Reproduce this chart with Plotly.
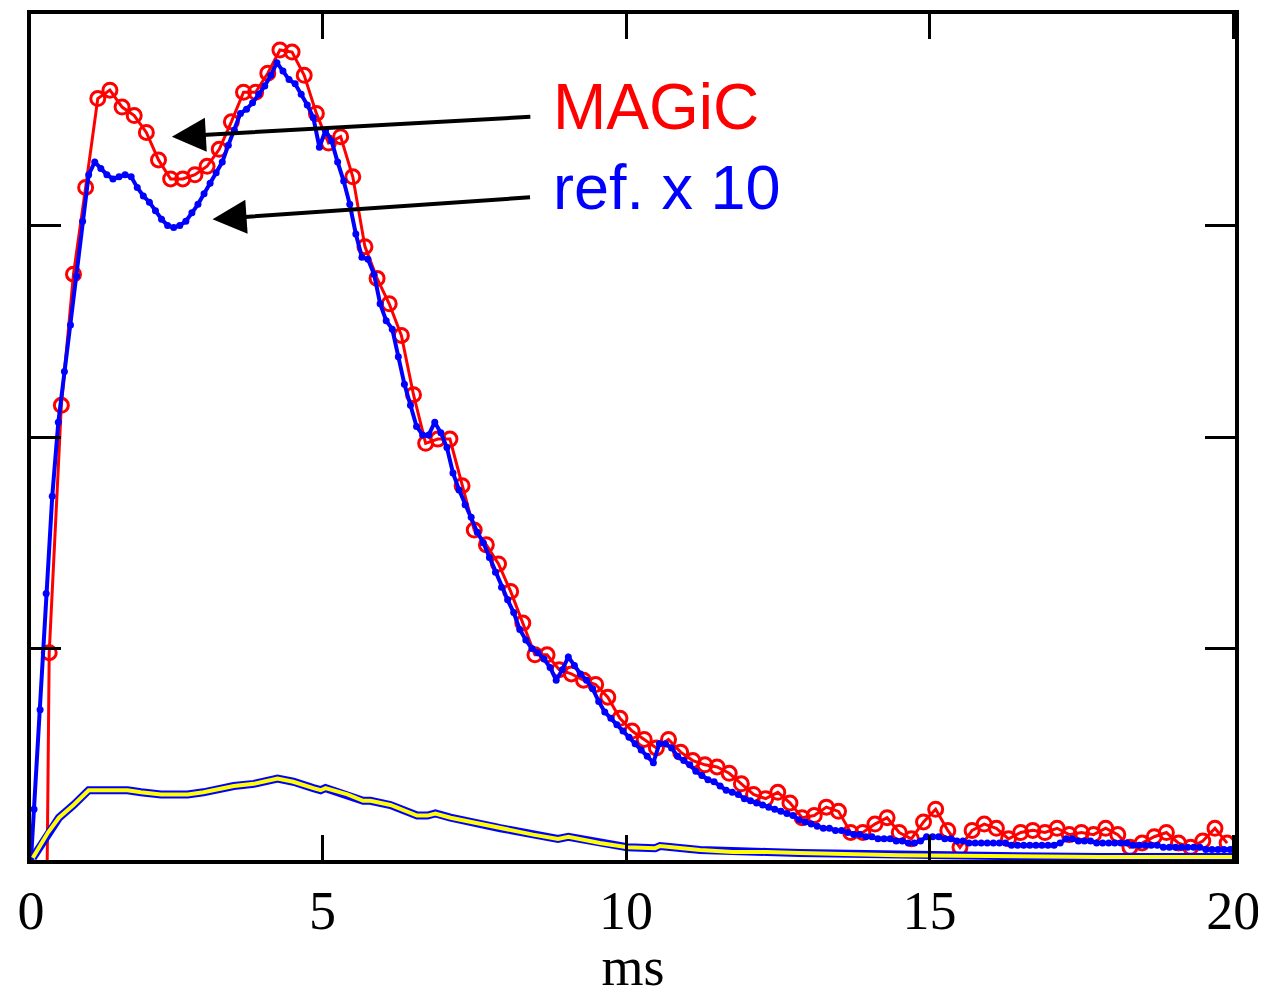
"""MAGiC vs reference signal (x10) over time, plotly recreation."""

import numpy as np
import plotly.graph_objects as go

# ---- data -----------------------------------------------------------------
# MAGiC samples, every 0.2 ms; first sample lies below the axis (clipped)
magic_t = np.round(np.arange(0.3, 20.0, 0.2), 1)
magic_v = [
    -5.0,
    0.98, 2.15, 2.77, 3.18, 3.60, 3.64, 3.56, 3.52, 3.44, 3.31,
    3.22, 3.22, 3.24, 3.28, 3.36, 3.49, 3.63, 3.63, 3.72, 3.83,
    3.82, 3.71, 3.53, 3.39, 3.42, 3.23, 2.90, 2.75, 2.63, 2.48,
    2.20, 1.97, 1.99, 1.99, 1.77, 1.56, 1.49, 1.40, 1.27, 1.12,
    0.97, 0.97, 0.90, 0.88, 0.85, 0.83, 0.77, 0.67, 0.61, 0.57,
    0.53, 0.57, 0.51, 0.47, 0.45, 0.44, 0.41, 0.36, 0.31, 0.29,
    0.32, 0.27, 0.20, 0.21, 0.25, 0.23, 0.13, 0.13, 0.17, 0.20,
    0.13, 0.10, 0.18, 0.24, 0.14, 0.06, 0.14, 0.17, 0.15, 0.10,
    0.13, 0.14, 0.13, 0.15, 0.12, 0.13, 0.12, 0.15, 0.12, 0.06,
    0.08, 0.11, 0.13, 0.08, 0.06, 0.09, 0.15, 0.08,
]

# reference signal (already scaled x10), every 0.1 ms
ref_t = [0.2] + list(np.round(0.25 + 0.1 * np.arange(198), 2))
ref_v = [
    0.0,
    0.24, 0.71, 1.26, 1.72, 2.07, 2.31, 2.53, 2.76, 3.02, 3.24,
    3.30, 3.27, 3.24, 3.22, 3.23, 3.24, 3.23, 3.18, 3.14, 3.11,
    3.07, 3.03, 3.00, 2.99, 3.00, 3.02, 3.06, 3.10, 3.15, 3.20,
    3.25, 3.30, 3.38, 3.45, 3.53, 3.55, 3.58, 3.62, 3.66, 3.71,
    3.77, 3.73, 3.69, 3.67, 3.62, 3.57, 3.51, 3.37, 3.45, 3.40,
    3.30, 3.21, 3.10, 2.96, 2.85, 2.84, 2.77, 2.63, 2.55, 2.51,
    2.38, 2.25, 2.15, 2.05, 2.01, 2.01, 2.07, 2.02, 1.95, 1.83,
    1.75, 1.68, 1.62, 1.55, 1.50, 1.43, 1.36, 1.29, 1.23, 1.17,
    1.09, 1.04, 1.00, 0.98, 0.95, 0.91, 0.85, 0.90, 0.96, 0.92,
    0.88, 0.85, 0.81, 0.75, 0.70, 0.67, 0.64, 0.61, 0.58, 0.55,
    0.52, 0.49, 0.46, 0.55, 0.55, 0.53, 0.49, 0.47, 0.45, 0.42,
    0.40, 0.38, 0.37, 0.35, 0.33, 0.32, 0.31, 0.29, 0.28, 0.27,
    0.26, 0.25, 0.24, 0.23, 0.22, 0.21, 0.19, 0.18, 0.17, 0.16,
    0.15, 0.15, 0.14, 0.14, 0.13, 0.12, 0.12, 0.11, 0.11, 0.10,
    0.10, 0.10, 0.09, 0.09, 0.08, 0.08, 0.09, 0.11, 0.11, 0.11,
    0.10, 0.10, 0.09, 0.09, 0.08, 0.08, 0.08, 0.08, 0.08, 0.08,
    0.08, 0.07, 0.07, 0.07, 0.07, 0.07, 0.07, 0.07, 0.07, 0.08,
    0.10, 0.10, 0.09, 0.09, 0.09, 0.08, 0.08, 0.08, 0.08, 0.08,
    0.08, 0.07, 0.07, 0.07, 0.07, 0.07, 0.06, 0.06, 0.06, 0.06,
    0.06, 0.06, 0.06, 0.05, 0.05, 0.05, 0.05, 0.05,
]

# unscaled reference (yellow line with blue edge)
raw_t = [0.23, 0.48, 0.66, 0.90, 1.15, 1.35, 1.79, 2.01, 2.34, 2.78,
         3.04, 3.54, 3.87, 4.26, 4.52, 4.85, 4.97, 5.05, 5.41, 5.67,
         5.79, 6.12, 6.56, 6.73, 6.86, 7.11, 7.93, 8.47, 8.88, 9.05,
         9.57, 10.02, 10.48, 10.56, 11.22, 11.76, 12.32, 12.86, 14.5, 16.15,
         17.8, 20.0]
raw_v = [0.01, 0.13, 0.20, 0.26, 0.33, 0.33, 0.33, 0.32, 0.31, 0.31,
         0.32, 0.35, 0.36, 0.385, 0.37, 0.34, 0.33, 0.34, 0.31, 0.28,
         0.28, 0.26, 0.21, 0.21, 0.22, 0.20, 0.15, 0.12, 0.10, 0.11,
         0.08, 0.06, 0.056, 0.066, 0.047, 0.038, 0.038, 0.033, 0.023, 0.019,
         0.014, 0.014]

x_tickvals = [0.2, 5, 10, 15, 20]
x_ticktext = ["0", "5", "10", "15", "20"]

RED = "#ff0000"
BLUE = "#0000ff"
YELLOW = "#ffff00"
SERIF = "Liberation Serif, Times New Roman, serif"
SANS = "Liberation Sans, Arial, sans-serif"

fig = go.Figure()

fig.add_trace(go.Scatter(
    x=magic_t, y=magic_v, mode="lines+markers",
    line=dict(color=RED, width=3),
    marker=dict(symbol="circle-open", size=14, color=RED, line=dict(width=3)),
))
fig.add_trace(go.Scatter(
    x=ref_t, y=ref_v, mode="lines+markers",
    line=dict(color=BLUE, width=4),
    marker=dict(symbol="circle", size=7, color=BLUE),
))
# yellow line with blue edge: wide blue under thin yellow
fig.add_trace(go.Scatter(x=raw_t, y=raw_v, mode="lines",
                         line=dict(color=BLUE, width=8)))
fig.add_trace(go.Scatter(x=raw_t, y=raw_v, mode="lines",
                         line=dict(color=YELLOW, width=4)))

# labels + arrows
fig.add_annotation(x=8.77, y=3.56, text="MAGiC", showarrow=False,
                   xanchor="left", yanchor="middle",
                   font=dict(family=SANS, size=64, color=RED))
fig.add_annotation(x=8.77, y=3.18, text="ref. x 10", showarrow=False,
                   xanchor="left", yanchor="middle",
                   font=dict(family=SANS, size=63, color=BLUE))
for tip_x, tip_y, ax, ay in [(2.52, 3.42, 360, -20), (3.19, 3.03, 319, -22)]:
    fig.add_annotation(x=tip_x, y=tip_y, ax=ax, ay=ay, text="",
                       showarrow=True, arrowhead=2, arrowsize=1.7,
                       arrowwidth=4, arrowcolor="black", standoff=0)

fig.update_xaxes(
    range=[0.2, 20.03], tickvals=x_tickvals, ticktext=x_ticktext,
    ticks="inside", ticklen=25, tickwidth=3, tickcolor="black",
    showline=True, linewidth=4, linecolor="black", mirror="ticks",
    showgrid=False, zeroline=False,
    tickfont=dict(family=SERIF, size=54, color="black"),
    title=dict(text="ms", font=dict(family=SERIF, size=54, color="black"),
               standoff=10),
)
fig.update_yaxes(
    range=[0, 4], tickvals=[1, 2, 3], showticklabels=False,
    ticks="inside", ticklen=30, tickwidth=3, tickcolor="black",
    showline=True, linewidth=4, linecolor="black", mirror="ticks",
    showgrid=False, zeroline=False,
)
# the page body adds an 8 px offset, so the figure is 8 px smaller
fig.update_layout(
    width=1258, height=989, showlegend=False,
    margin=dict(l=23, r=31, t=2, b=137),
    paper_bgcolor="white", plot_bgcolor="white",
)

fig.write_html("out.html")
